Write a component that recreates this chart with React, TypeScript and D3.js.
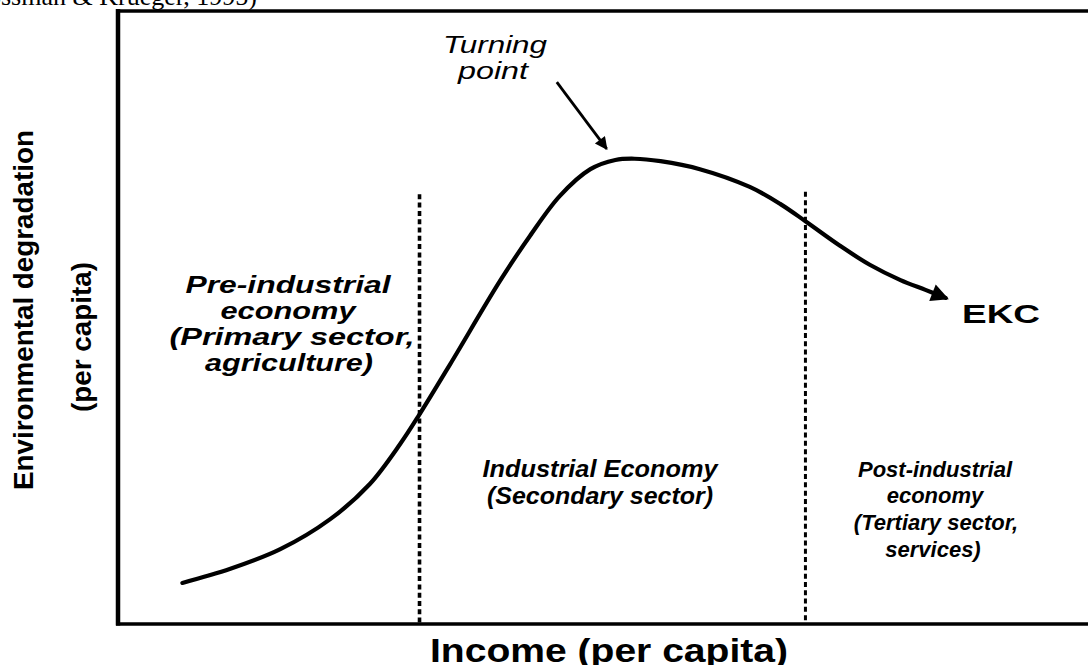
import React from "react";
import * as d3 from "d3";

// Income (per capita), index units 0–100
const income = [6.5, 11.5, 16.7, 21.9, 26.0, 29.2, 31.2, 34.4, 39.6, 42.7, 45.8, 49.0, 51.6, 53.6, 56.3, 60.4, 65.6, 68.8, 71.4, 75.0, 78.1, 81.3, 83.9, 86.0];
// Environmental degradation (per capita), index units 0–100
const degradation = [6.7, 9.0, 12.2, 17.1, 22.8, 29.4, 34.2, 42.4, 56.0, 63.3, 69.8, 74.2, 75.7, 75.9, 75.5, 74.2, 71.3, 68.5, 65.7, 61.7, 58.6, 56.1, 54.5, 53.2];

// Stage boundaries (income) and top of dotted separators (degradation)
const stageBounds = [31.2, 71.4];
const stageTops = [70.1, 70.5];

const preLines = ["Pre-industrial", "economy", "(Primary sector,", "agriculture)"];
const indLines = ["Industrial Economy", "(Secondary sector)"];
const postLines = ["Post-industrial", "economy", "(Tertiary sector,", "services)"];
const turningLines = ["Turning", "point"];
const curveName = "EKC";
const xTitle = "Income (per capita)";
const yTitleLines = ["Environmental degradation", "(per capita)"];
const citation = "(Grossman & Krueger, 1995)";

// turning point arrow [from, to] in data units
const turnArrowX = [45.5, 50.7];
const turnArrowY = [88.4, 77.5];

const W = 1088;
const H = 665;
const SANS = "'Liberation Sans', Arial, Helvetica, sans-serif";

const x = d3.scaleLinear().domain([0, 100]).range([120, 1080]);
const y = d3.scaleLinear().domain([0, 100]).range([624, 11]);

type LineSpec = { text: string; cx: number; base: number; len?: number };

function Block({ lines, size, italic, weight }: { lines: LineSpec[]; size: number; italic?: boolean; weight?: string }) {
  return (
    <g fontFamily={SANS} fontSize={size} fontStyle={italic ? "italic" : "normal"} fontWeight={weight || "bold"} fill="#000">
      {lines.map((l, i) =>
        l.len ? (
          <text key={i} x={l.cx} y={l.base} textAnchor="middle" textLength={l.len} lengthAdjust="spacingAndGlyphs">
            {l.text}
          </text>
        ) : (
          <text key={i} x={l.cx} y={l.base} textAnchor="middle">
            {l.text}
          </text>
        )
      )}
    </g>
  );
}

export default function App() {
  const pts: [number, number][] = income.map((v, i) => [x(v), y(degradation[i])]);
  const line = d3.line().curve(d3.curveCatmullRom.alpha(0.5))(pts) || "";

  const preLayout = [
    { cx: 288, base: 293, len: 205 },
    { cx: 288, base: 319, len: 135 },
    { cx: 292, base: 345, len: 245 },
    { cx: 289, base: 371, len: 168 },
  ];
  const indLayout = [
    { cx: 600, base: 477, len: 235 },
    { cx: 600, base: 504, len: 226 },
  ];
  const postLayout = [
    { cx: 935, base: 477 },
    { cx: 935, base: 503 },
    { cx: 936, base: 530 },
    { cx: 933, base: 557 },
  ];
  const turnLayout = [
    { cx: 495, base: 53, len: 104 },
    { cx: 493, base: 79, len: 70 },
  ];

  const x0 = x.range()[0] - 2;
  const yTop = y.range()[1];
  const yBot = y.range()[0];

  return (
    <svg width={W} height={H} style={{ position: "absolute", left: 0, top: 0, background: "#fff" }}>
      <defs>
        <marker id="headCurve" viewBox="0 0 10 10" refX="8" refY="5" markerWidth="5" markerHeight="4.2" markerUnits="strokeWidth" orient="auto">
          <path d="M0,0 L10,5 L0,10 z" fill="#000" />
        </marker>
        <marker id="headTurn" viewBox="0 0 10 10" refX="9" refY="5" markerWidth="5.5" markerHeight="4.5" markerUnits="strokeWidth" orient="auto">
          <path d="M0,0 L10,5 L0,10 z" fill="#000" />
        </marker>
      </defs>

      <text x={257} y={5} textAnchor="end" fontFamily="'Liberation Serif', 'Times New Roman', serif" fontSize={26} fill="#000">
        {citation}
      </text>

      {/* frame */}
      <line x1={x0} x2={x0} y1={yTop - 2} y2={yBot + 1.5} stroke="#000" strokeWidth={4.5} />
      <line x1={x0 - 2} x2={W} y1={yTop} y2={yTop} stroke="#000" strokeWidth={3.5} />
      <line x1={x0 - 2} x2={W} y1={yBot} y2={yBot} stroke="#000" strokeWidth={3.5} />

      {/* stage separators */}
      {stageBounds.map((b, i) => (
        <line key={i} x1={x(b)} x2={x(b)} y1={y(stageTops[i])} y2={yBot} stroke="#000" strokeWidth={i === 0 ? 3.6 : 3} strokeDasharray="5 3.3" />
      ))}

      {/* EKC curve */}
      <path d={line} fill="none" stroke="#000" strokeWidth={4.2} strokeLinecap="round" markerEnd="url(#headCurve)" />

      {/* turning point arrow */}
      <line x1={x(turnArrowX[0])} y1={y(turnArrowY[0])} x2={x(turnArrowX[1])} y2={y(turnArrowY[1])} stroke="#000" strokeWidth={2.8} markerEnd="url(#headTurn)" />

      <Block lines={turningLines.map((t, i) => ({ text: t, ...turnLayout[i] }))} size={24} italic weight="normal" />
      <Block lines={preLines.map((t, i) => ({ text: t, ...preLayout[i] }))} size={24} italic />
      <Block lines={indLines.map((t, i) => ({ text: t, ...indLayout[i] }))} size={23} italic />
      <Block lines={postLines.map((t, i) => ({ text: t, ...postLayout[i] }))} size={22} italic />

      <text x={1001} y={323} textAnchor="middle" textLength={78} lengthAdjust="spacingAndGlyphs" fontFamily={SANS} fontWeight="bold" fontSize={25}>
        {curveName}
      </text>

      <text x={609} y={662} textAnchor="middle" textLength={358} lengthAdjust="spacingAndGlyphs" fontFamily={SANS} fontWeight="bold" fontSize={33}>
        {xTitle}
      </text>

      <text transform="translate(33,310) rotate(-90)" textAnchor="middle" textLength={360} lengthAdjust="spacingAndGlyphs" fontFamily={SANS} fontWeight="bold" fontSize={27}>
        {yTitleLines[0]}
      </text>
      <text transform="translate(91,337) rotate(-90)" textAnchor="middle" textLength={150} lengthAdjust="spacingAndGlyphs" fontFamily={SANS} fontWeight="bold" fontSize={27}>
        {yTitleLines[1]}
      </text>
    </svg>
  );
}
